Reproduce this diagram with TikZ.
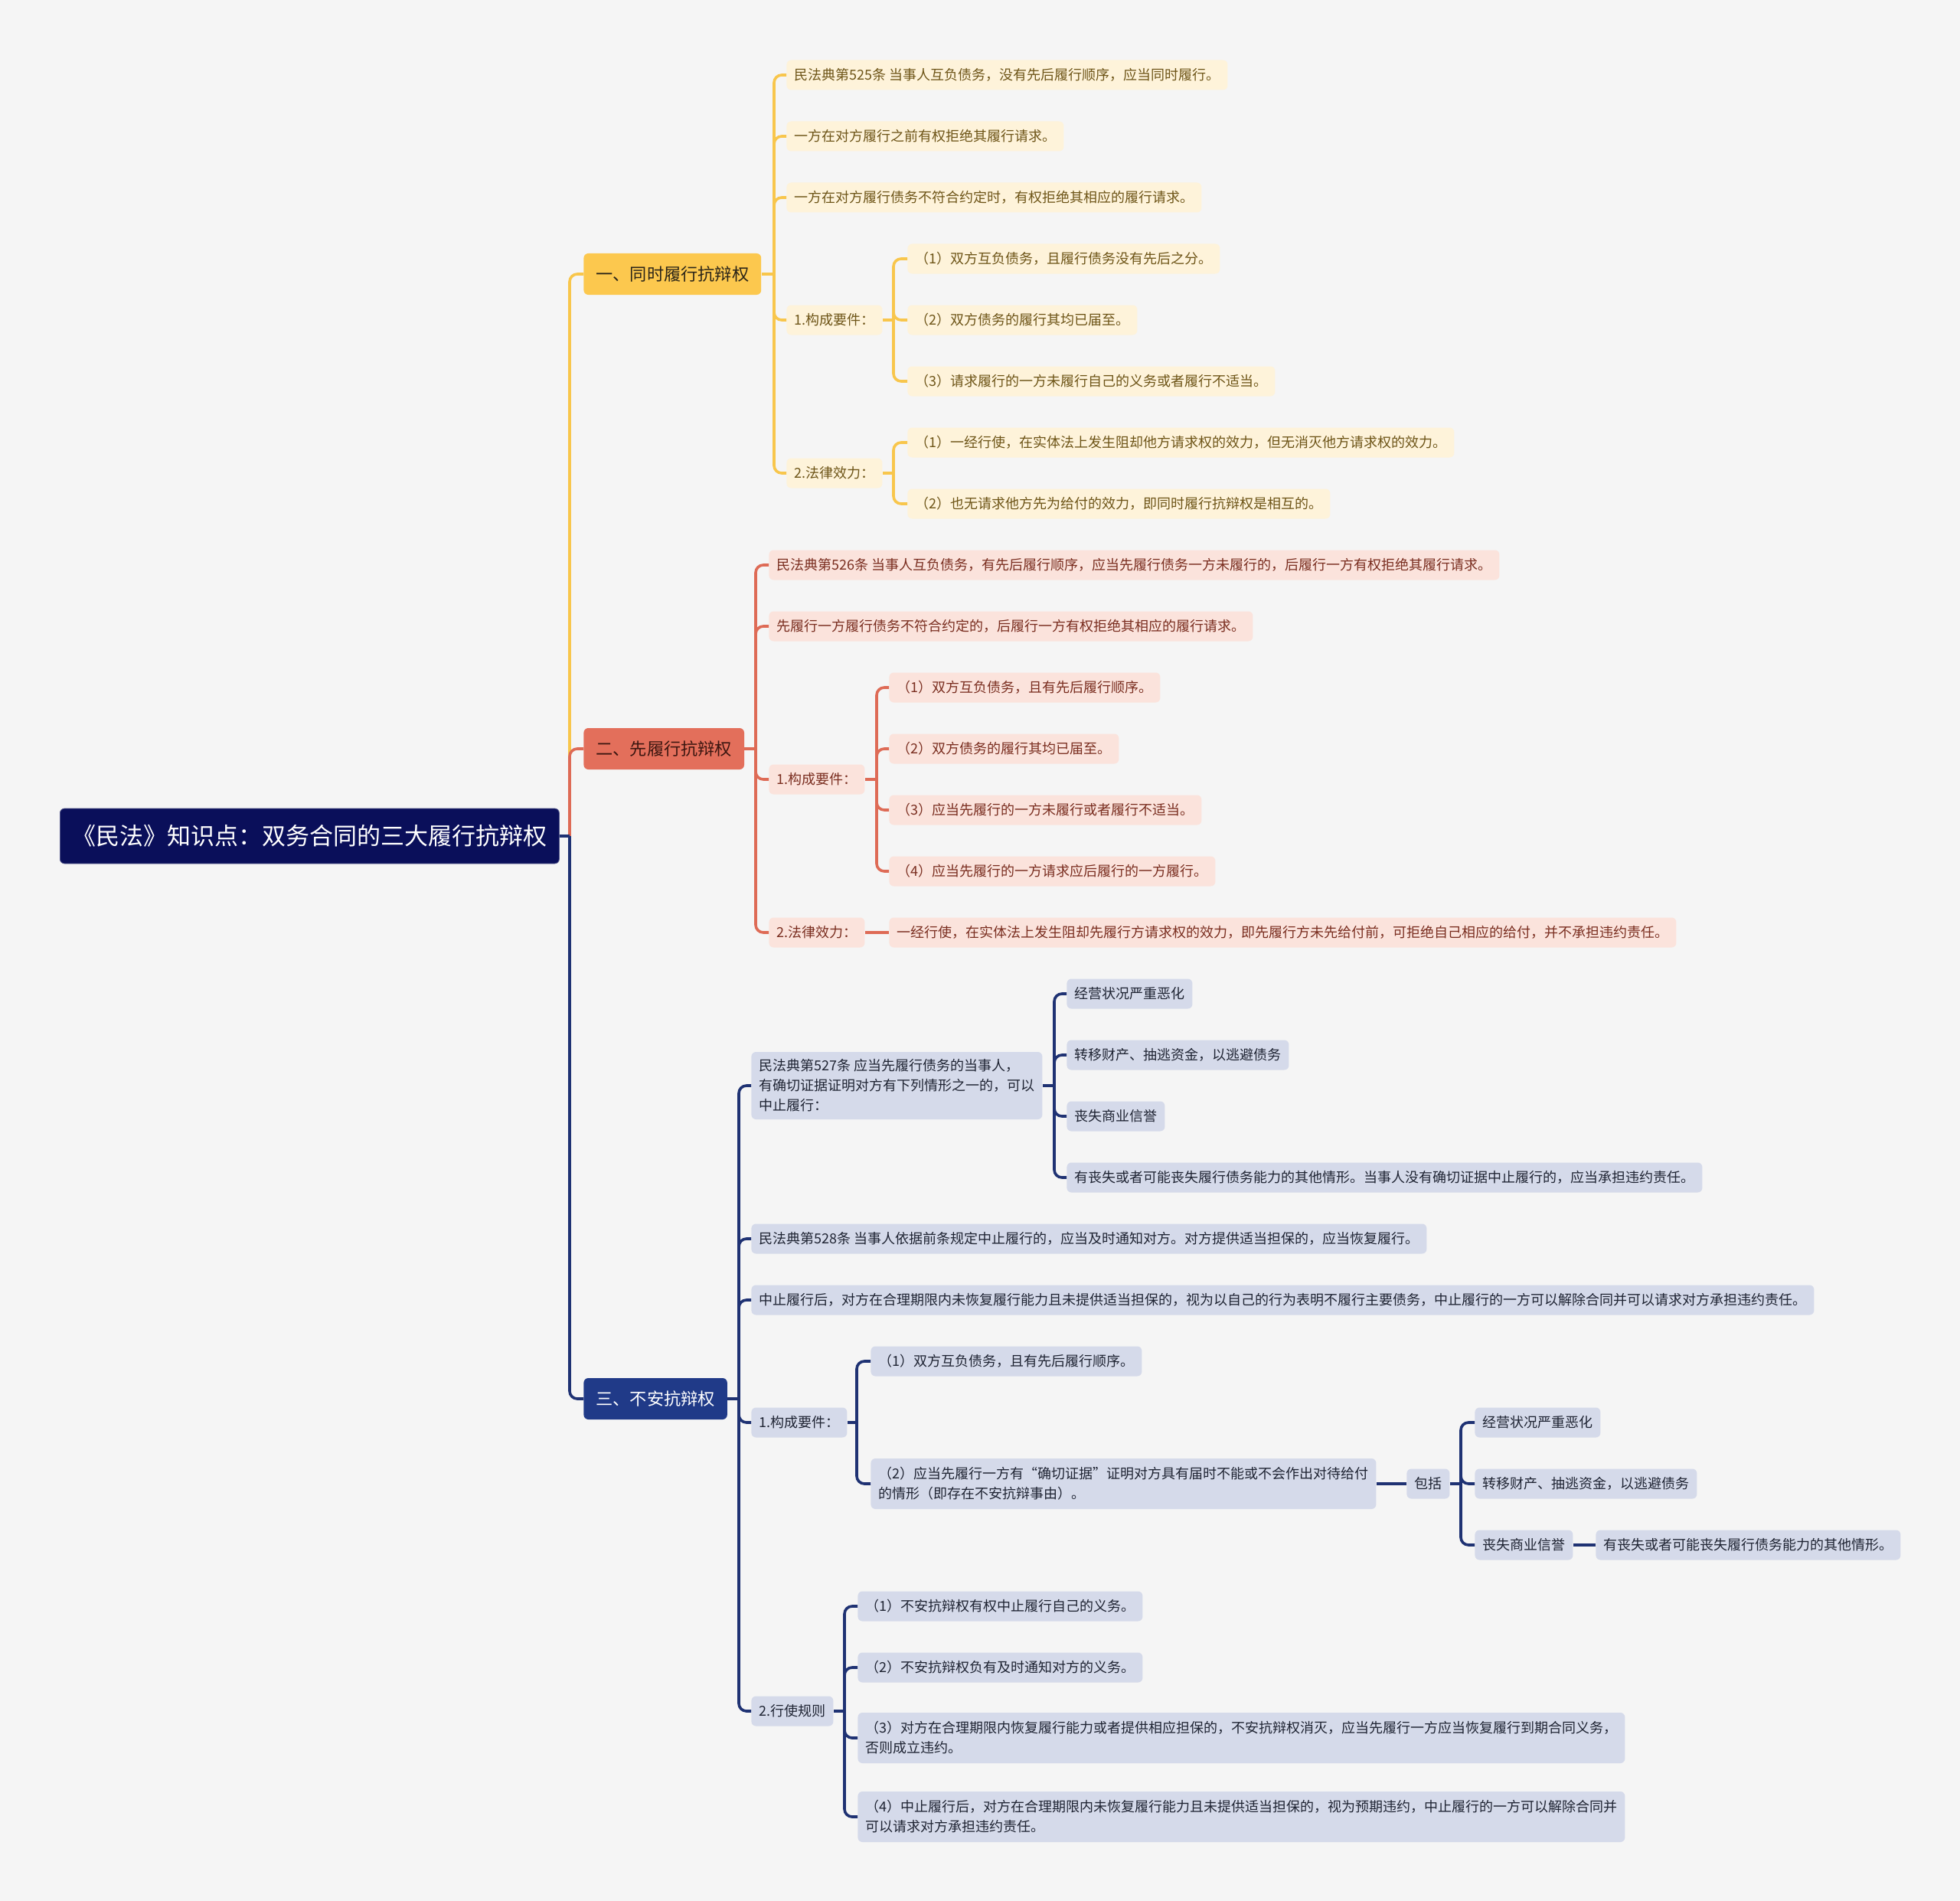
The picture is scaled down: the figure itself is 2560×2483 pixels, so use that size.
\documentclass[tikz,border=0pt]{standalone}
\usepackage{fontspec}
\setmainfont{Noto Sans CJK SC}
\usetikzlibrary{calc}
\definecolor{bg}{HTML}{F5F5F5}
\definecolor{rootc}{HTML}{0A0F5A}
\definecolor{yfill}{HTML}{FCC84E}
\definecolor{ytext}{HTML}{2A2418}
\definecolor{yline}{HTML}{F8C64C}
\definecolor{ycfill}{HTML}{FEF3DA}
\definecolor{yctext}{HTML}{6E5518}
\definecolor{rfill}{HTML}{E36F5B}
\definecolor{rtext}{HTML}{3B1610}
\definecolor{rline}{HTML}{DE6B56}
\definecolor{rcfill}{HTML}{FBE3DC}
\definecolor{rctext}{HTML}{7A2E20}
\definecolor{bfill}{HTML}{203A88}
\definecolor{bline}{HTML}{1F3273}
\definecolor{bcfill}{HTML}{D5DAEA}
\definecolor{bctext}{HTML}{1F2433}
\tikzset{
  base/.style={anchor=west, rounded corners=3pt, inner ysep=0pt, align=left},
  rootnode/.style={base, fill=rootc, draw=rootc!70!white, line width=0.4pt, text=white, font=\fontsize{15.5pt}{18pt}\selectfont, inner xsep=8pt, minimum height=36pt},
  lone/.style={base, font=\fontsize{11.1pt}{13pt}\selectfont, inner xsep=8pt, minimum height=27pt},
  leaf/.style={base, font=\fontsize{9pt}{13pt}\selectfont, inner xsep=5pt, minimum height=19.5pt},
  yl/.style={leaf, fill=ycfill, text=yctext},
  rl/.style={leaf, fill=rcfill, text=rctext},
  bl/.style={leaf, fill=bcfill, text=bctext},
  two/.style={minimum height=33pt},
  three/.style={minimum height=44pt},
  link/.style={line width=1.8pt, rounded corners=5pt},
  ylink/.style={link, draw=yline},
  rlink/.style={link, draw=rline},
  blink/.style={link, draw=bline},
}
% #1 link style, #2 parent node, #3 trunk x (px), #4 list of children
\newcommand\mmbranch[4]{%
  \coordinate (#2-t) at (#3,0);
  \draw[#1] (#2.east) -- (#2.east -| #2-t);
  \foreach \kid in {#4} {\draw[#1] (#2.east -| #2-t) |- (\kid.west);}
}
% single child on the same line: straight connector
\newcommand\mmstraight[3]{\draw[#1] (#2.east) -- (#3.west);}
\begin{document}
\begin{tikzpicture}[x=0.5pt,y=-0.5pt]
\fill[bg] (0,0) rectangle (2560,2483);
\useasboundingbox (0,0) rectangle (2560,2483);

% root and main branches
\node[rootnode] (root) at (78,1092) {《民法》知识点：双务合同的三大履行抗辩权};
\node[lone, fill=yfill, text=ytext] (Y1) at (762,358) {一、同时履行抗辩权};
\node[lone, fill=rfill, text=rtext] (R1) at (762,978) {二、先履行抗辩权};
\node[lone, fill=bfill, text=white] (B1) at (762,1827) {三、不安抗辩权};

% yellow branch
\node[yl] (Y11) at (1027,98) {民法典第525条 当事人互负债务，没有先后履行顺序，应当同时履行。};
\node[yl] (Y12) at (1027,178) {一方在对方履行之前有权拒绝其履行请求。};
\node[yl] (Y13) at (1027,258) {一方在对方履行债务不符合约定时，有权拒绝其相应的履行请求。};
\node[yl] (Y14) at (1027,418) {1.构成要件：};
\node[yl] (Y141) at (1185,338) {（1）双方互负债务，且履行债务没有先后之分。};
\node[yl] (Y142) at (1185,418) {（2）双方债务的履行其均已届至。};
\node[yl] (Y143) at (1185,498) {（3）请求履行的一方未履行自己的义务或者履行不适当。};
\node[yl] (Y15) at (1027,618) {2.法律效力：};
\node[yl] (Y151) at (1185,578) {（1）一经行使，在实体法上发生阻却他方请求权的效力，但无消灭他方请求权的效力。};
\node[yl] (Y152) at (1185,658) {（2）也无请求他方先为给付的效力，即同时履行抗辩权是相互的。};

% red branch
\node[rl] (R11) at (1004,738) {民法典第526条 当事人互负债务，有先后履行顺序，应当先履行债务一方未履行的，后履行一方有权拒绝其履行请求。};
\node[rl] (R12) at (1004,818) {先履行一方履行债务不符合约定的，后履行一方有权拒绝其相应的履行请求。};
\node[rl] (R13) at (1004,1018) {1.构成要件：};
\node[rl] (R131) at (1161,898) {（1）双方互负债务，且有先后履行顺序。};
\node[rl] (R132) at (1161,978) {（2）双方债务的履行其均已届至。};
\node[rl] (R133) at (1161,1058) {（3）应当先履行的一方未履行或者履行不适当。};
\node[rl] (R134) at (1161,1138) {（4）应当先履行的一方请求应后履行的一方履行。};
\node[rl] (R14) at (1004,1218) {2.法律效力：};
\node[rl] (R141) at (1161,1218) {一经行使，在实体法上发生阻却先履行方请求权的效力，即先履行方未先给付前，可拒绝自己相应的给付，并不承担违约责任。};

% blue branch
\node[bl, three] (B11) at (981,1418) {民法典第527条 应当先履行债务的当事人，\\有确切证据证明对方有下列情形之一的，可以\\中止履行：};
\node[bl] (B111) at (1393,1298) {经营状况严重恶化};
\node[bl] (B112) at (1393,1378) {转移财产、抽逃资金，以逃避债务};
\node[bl] (B113) at (1393,1458) {丧失商业信誉};
\node[bl] (B114) at (1393,1538) {有丧失或者可能丧失履行债务能力的其他情形。当事人没有确切证据中止履行的，应当承担违约责任。};
\node[bl] (B12) at (981,1618) {民法典第528条 当事人依据前条规定中止履行的，应当及时通知对方。对方提供适当担保的，应当恢复履行。};
\node[bl] (B13) at (981,1698) {中止履行后，对方在合理期限内未恢复履行能力且未提供适当担保的，视为以自己的行为表明不履行主要债务，中止履行的一方可以解除合同并可以请求对方承担违约责任。};
\node[bl] (B14) at (981,1858) {1.构成要件：};
\node[bl] (B141) at (1137,1778) {（1）双方互负债务，且有先后履行顺序。};
\node[bl, two] (B142) at (1137,1938) {（2）应当先履行一方有“确切证据”证明对方具有届时不能或不会作出对待给付\\的情形（即存在不安抗辩事由）。};
\node[bl] (B1420) at (1837,1938) {包括};
\node[bl] (B1421) at (1926,1858) {经营状况严重恶化};
\node[bl] (B1422) at (1926,1938) {转移财产、抽逃资金，以逃避债务};
\node[bl] (B1423) at (1926,2018) {丧失商业信誉};
\node[bl] (B14231) at (2084,2018) {有丧失或者可能丧失履行债务能力的其他情形。};
\node[bl] (B15) at (981,2235) {2.行使规则};
\node[bl] (B151) at (1120,2098) {（1）不安抗辩权有权中止履行自己的义务。};
\node[bl] (B152) at (1120,2178) {（2）不安抗辩权负有及时通知对方的义务。};
\node[bl, two] (B153) at (1120,2270) {（3）对方在合理期限内恢复履行能力或者提供相应担保的，不安抗辩权消灭，应当先履行一方应当恢复履行到期合同义务，\\否则成立违约。};
\node[bl, two] (B154) at (1120,2373) {（4）中止履行后，对方在合理期限内未恢复履行能力且未提供适当担保的，视为预期违约，中止履行的一方可以解除合同并\\可以请求对方承担违约责任。};

% root connectors
\coordinate (root-t) at (744,0);
\draw[ylink] (root.east -| root-t) |- (Y1.west);
\draw[rlink] (root.east -| root-t) |- (R1.west);
\draw[blink] (root.east -| root-t) |- (B1.west);
\draw[blink] (root.east) -- (root.east -| root-t);

% branch connectors
\mmbranch{ylink}{Y1}{1011}{Y11,Y12,Y13,Y14,Y15}
\mmbranch{ylink}{Y14}{1167}{Y141,Y142,Y143}
\mmbranch{ylink}{Y15}{1167}{Y151,Y152}
\mmbranch{rlink}{R1}{987}{R11,R12,R13,R14}
\mmbranch{rlink}{R13}{1145}{R131,R132,R133,R134}
\mmstraight{rlink}{R14}{R141}
\mmbranch{blink}{B1}{965}{B11,B12,B13,B14,B15}
\mmbranch{blink}{B11}{1377}{B111,B112,B113,B114}
\mmbranch{blink}{B14}{1119}{B141,B142}
\mmstraight{blink}{B142}{B1420}
\mmbranch{blink}{B1420}{1908}{B1421,B1422,B1423}
\mmstraight{blink}{B1423}{B14231}
\mmbranch{blink}{B15}{1103}{B151,B152,B153,B154}
\end{tikzpicture}
\end{document}
